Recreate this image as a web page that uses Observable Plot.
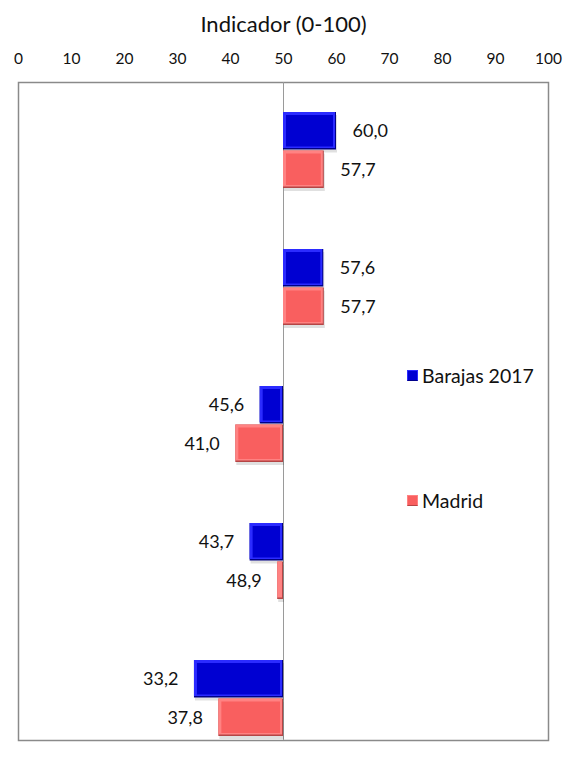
<!DOCTYPE html>
<html>
<head>
<meta charset="utf-8">
<script src="https://cdn.jsdelivr.net/npm/d3@7"></script>
<script src="https://cdn.jsdelivr.net/npm/@observablehq/plot@0.6"></script>
<style>
  html, body { margin: 0; padding: 0; background: #fff; }
  #wrap { position: relative; width: 576px; height: 772px; font-family: Lato, "Open Sans", sans-serif; }
  .leg { position: absolute; left: 407px; display: flex; align-items: center; font-size: 19.5px; color: #111; white-space: nowrap; }
  .sw { width: 9px; height: 9px; margin-right: 4px; border: 1.5px solid; }
</style>
</head>
<body>
<div id="wrap"></div>
<script>
// ---- data ----
const groups = ["G1", "G2", "G3", "G4", "G5"];
const seriesNames = ["Barajas 2017", "Madrid"];
const barajas = [60.0, 57.6, 45.6, 43.7, 33.2];
const madrid = [57.7, 57.7, 41.0, 48.9, 37.8];
const xTicks = [0, 10, 20, 30, 40, 50, 60, 70, 80, 90, 100];
const baseline = [50];
const axisTitle = ["Indicador (0-100)"];

// styles
const palette = {
  "Barajas 2017": {main: "#0000d2", light: "#2b2bff", dark: "#000088"},
  "Madrid": {main: "#f95f5f", light: "#ff8282", dark: "#b54545"}
};

const rows = [];
groups.forEach((g, i) => {
  rows.push({group: g, series: seriesNames[0], value: barajas[i]});
  rows.push({group: g, series: seriesNames[1], value: madrid[i]});
});
const fmt = v => v.toFixed(1).replace(".", ",");

const half = 38.5;
function barLayers(series, top) {
  const data = rows.filter(d => d.series === series);
  const c = palette[series];
  const ins = top ? {insetTop: 0, insetBottom: half} : {insetTop: half, insetBottom: 0};
  const big = data.filter(d => Math.abs(d.value - 50) > 1.4);
  return [
    // soft shadow
    Plot.barX(data, {x1: () => 50, x2: "value", y: "group", fill: "#000", fillOpacity: 0.12,
      insetTop: ins.insetTop + 3, insetBottom: ins.insetBottom - 3, dx: 1}),
    Plot.barX(data, {x1: () => 50, x2: "value", y: "group", fill: c.dark, ...ins}),
    Plot.barX(data, {x1: () => 50, x2: "value", y: "group", fill: c.light,
      insetTop: ins.insetTop, insetBottom: ins.insetBottom + 1.5, insetRight: 1}),
    Plot.barX(big, {x1: () => 50, x2: "value", y: "group", fill: c.main,
      insetTop: ins.insetTop + 3, insetBottom: ins.insetBottom + 3, insetLeft: 3, insetRight: 3})
  ];
}
function labels(series, top) {
  const data = rows.filter(d => d.series === series);
  const dy = top ? -half / 2 : half / 2;
  const common = {x: "value", y: "group", text: d => fmt(d.value), dy, fontSize: 18, fill: "#111"};
  return [
    Plot.text(data.filter(d => d.value >= 50), {...common, textAnchor: "start", dx: 16}),
    Plot.text(data.filter(d => d.value < 50), {...common, textAnchor: "end", dx: -16})
  ];
}

const chart = Plot.plot({
  width: 576,
  height: 772,
  marginLeft: 18,
  marginRight: 28,
  marginTop: 82,
  marginBottom: 32,
  style: {fontFamily: "Lato, 'Open Sans', sans-serif", background: "#fff"},
  x: {domain: [0, 100], axis: null},
  y: {type: "band", domain: groups, paddingInner: 0.442, paddingOuter: 0, insetTop: 28, insetBottom: 1, axis: null},
  marks: [
    Plot.frame({stroke: "#8a8a8a", strokeWidth: 1.5}),
    Plot.ruleX(baseline, {stroke: "#9a9a9a", strokeWidth: 1}),
    ...barLayers("Barajas 2017", true),
    ...barLayers("Madrid", false),
    ...labels("Barajas 2017", true),
    ...labels("Madrid", false),
    Plot.axisX(xTicks, {anchor: "top", tickSize: 0, tickPadding: 19, fontSize: 15.5, label: null, tickFormat: d => String(d), fill: "#111"}),
    Plot.text(axisTitle, {frameAnchor: "top", dy: -66, lineAnchor: "top", fontSize: 22, fill: "#111"})
  ]
});
const wrap = document.getElementById("wrap");
wrap.appendChild(chart);

// legend
const legendTops = {"Barajas 2017": 364, "Madrid": 489};
seriesNames.forEach(s => {
  const c = palette[s];
  const item = document.createElement("div");
  item.className = "leg";
  item.style.top = legendTops[s] + "px";
  const sw = document.createElement("span");
  sw.className = "sw";
  sw.style.background = c.main;
  sw.style.borderColor = c.light;
  sw.style.borderBottomColor = c.dark;
  const t = document.createElement("span");
  t.textContent = s;
  item.appendChild(sw);
  item.appendChild(t);
  wrap.appendChild(item);
});
</script>
</body>
</html>
